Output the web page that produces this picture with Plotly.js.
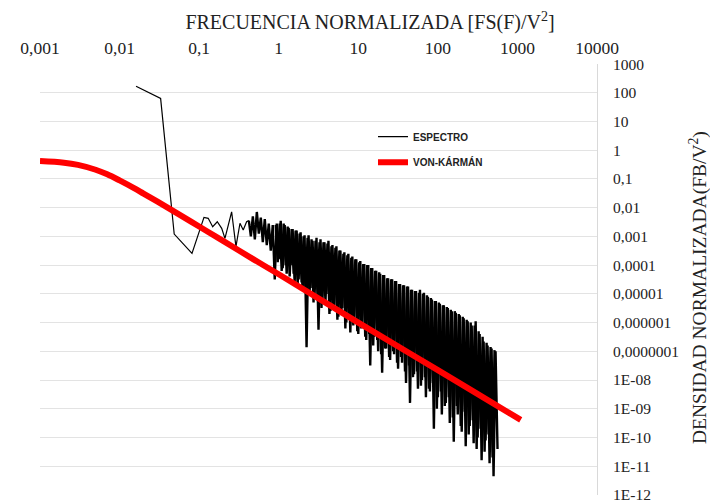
<!DOCTYPE html>
<html>
<head>
<meta charset="utf-8">
<script src="https://cdn.plot.ly/plotly-3.0.1.min.js"></script>
<style>html,body{margin:0;padding:0;background:#fff;}#chart{width:710px;height:502px;}</style>
</head>
<body>
<div id="chart"></div>
<script>
// X axis (normalised frequency) tick labels
const xTickVals = [0.001, 0.01, 0.1, 1, 10, 100, 1000, 10000];
const xTickText = ['0,001', '0,01', '0,1', '1', '10', '100', '1000', '10000'];
// Y axis (normalised density) tick labels
const yTickVals = [1e3, 1e2, 1e1, 1, 1e-1, 1e-2, 1e-3, 1e-4, 1e-5, 1e-6, 1e-7, 1e-8, 1e-9, 1e-10, 1e-11, 1e-12];
const yTickText = ['1000', '100', '10', '1', '0,1', '0,01', '0,001', '0,0001', '0,00001', '0,000001', '0,0000001', '1E-08', '1E-09', '1E-10', '1E-11', '1E-12'];

// ESPECTRO – low-frequency part
const specFreqLow = [0.0161, 0.0328, 0.0486, 0.0813, 0.115, 0.130, 0.148, 0.169, 0.192, 0.211, 0.256, 0.290, 0.326, 0.358, 0.395, 0.4217];
const specDensLow = [170, 64, 1.21e-3, 2.58e-4, 4.6e-3, 4.27e-3, 2.18e-3, 3.24e-3, 1.91e-3, 8.5e-4, 7.2e-3, 4.4e-4, 2.87e-3, 1.66e-3, 3.24e-3, 3.55e-3];

// ESPECTRO – dense high-frequency part, set A (peaks / troughs)
const specFreqHighA = [
  0.4217, 0.4467, 0.4732, 0.5012, 0.5309, 0.5623, 0.5957, 0.631, 0.6683, 0.7079, 0.7499, 0.7943, 0.8414, 0.8913, 0.9441,
  1, 1.059, 1.122, 1.189, 1.259, 1.334, 1.413, 1.496, 1.585, 1.679, 1.778, 1.884, 1.995, 2.113, 2.239, 2.371, 2.512, 2.661, 2.818, 2.985,
  3.162, 3.35, 3.548, 3.758, 3.981, 4.217, 4.467, 4.732, 5.012, 5.309, 5.623, 5.957, 6.31, 6.683, 7.079, 7.499, 7.943, 8.414, 8.913, 9.441,
  10, 10.59, 11.22, 11.89, 12.59, 13.34, 14.13, 14.96, 15.85, 16.79, 17.78, 18.84, 19.95, 21.13, 22.39, 23.71, 25.12, 26.61, 28.18, 29.85,
  31.62, 33.5, 35.48, 37.58, 39.81, 42.17, 44.67, 47.32, 50.12, 53.09, 56.23, 59.57, 63.1, 66.83, 70.79, 74.99, 79.43, 84.14, 89.13, 94.41,
  100, 105.9, 112.2, 118.9, 125.9, 133.4, 141.3, 149.6, 158.5, 167.9, 177.8, 188.4, 199.5, 211.3, 223.9, 237.1, 251.2, 266.1, 281.8, 298.5,
  316.2, 335, 354.8, 375.8, 398.1, 421.7, 446.7, 473.2, 501.2, 530.9, 562.3
];
const specDensHighA = [
  3.55e-3, 1.0e-3, 5.0e-3, 7.9e-4, 7.1e-3, 1.26e-3, 4.5e-3, 6.3e-4, 4.0e-3, 5.0e-4, 2.8e-3, 3.2e-4, 2.5e-3, 3.2e-5, 2.8e-3,
  1.6e-4, 3.5e-3, 7.9e-5, 2.5e-3, 5.0e-5, 2.0e-3, 1.0e-4, 1.8e-3, 2.5e-5, 1.6e-3, 3.2e-5, 1.4e-3, 1.26e-5, 1.1e-3, 1.4e-7,
  1.1e-3, 1.6e-5, 7.1e-4, 7.9e-6, 8.9e-4, 5.6e-7, 7.9e-4, 6.3e-6, 6.3e-4, 1.0e-5, 7.1e-4, 2.5e-6, 5.0e-4, 4.0e-6, 4.5e-4,
  1.6e-6, 3.2e-4, 3.2e-6, 2.8e-4, 1.0e-6, 2.5e-4, 4.5e-7, 2.0e-4, 1.26e-6, 1.6e-4, 4.0e-7, 1.4e-4, 7.9e-7, 1.1e-4, 2.5e-7,
  1.0e-4, 3.2e-8, 7.9e-5, 3.2e-7, 6.3e-5, 1.0e-7, 5.0e-5, 1.8e-8, 4.5e-5, 1.26e-7, 3.5e-5, 5.0e-8, 3.2e-5, 7.9e-8, 2.8e-5,
  2.5e-8, 2.2e-5, 4.0e-8, 2.0e-5, 7.9e-9, 1.8e-5, 1.6e-9, 1.4e-5, 1.6e-8, 1.26e-5, 5.0e-9, 1.4e-5, 1.0e-8, 1.1e-5, 2.5e-9,
  7.9e-6, 4.0e-9, 6.3e-6, 2.0e-10, 5.6e-6, 2.5e-9, 4.5e-6, 6.3e-10, 4.0e-6, 1.6e-9, 3.2e-6, 3.2e-10, 2.5e-6, 7.1e-11, 2.2e-6,
  6.3e-10, 1.8e-6, 1.6e-10, 1.4e-6, 5.0e-11, 1.1e-6, 2.5e-10, 7.9e-7, 6.3e-11, 1.1e-6, 1.0e-10, 4.0e-7, 1.6e-11, 2.2e-7, 7.9e-11,
  1.6e-7, 1.26e-11, 1.26e-7, 4.5e-12, 1.0e-7, 4.0e-11
];

// ESPECTRO – dense high-frequency part, set B (interleaved peaks / troughs)
const specFreqHighB = [
  0.9173, 0.9716,
  1.029, 1.090, 1.155, 1.223, 1.296, 1.373, 1.454, 1.540, 1.631, 1.728, 1.830, 1.939, 2.054, 2.175, 2.304, 2.441, 2.585, 2.739, 2.901, 3.073,
  3.255, 3.448, 3.652, 3.868, 4.097, 4.340, 4.597, 4.870, 5.158, 5.464, 5.788, 6.131, 6.494, 6.879, 7.286, 7.718, 8.175, 8.660, 9.173, 9.716,
  10.29, 10.90, 11.55, 12.23, 12.96, 13.73, 14.54, 15.40, 16.31, 17.28, 18.30, 19.39, 20.54, 21.75, 23.04, 24.41, 25.85, 27.39, 29.01, 30.73,
  32.55, 34.48, 36.52, 38.68, 40.97, 43.40, 45.97, 48.70, 51.58, 54.64, 57.88, 61.31, 64.94, 68.79, 72.86, 77.18, 81.75, 86.60, 91.73, 97.16,
  102.9, 109.0, 115.5, 122.3, 129.6, 137.3, 145.4, 154.0, 163.1, 172.8, 183.0, 193.9, 205.4, 217.5, 230.4, 244.1, 258.5, 273.9, 290.1, 307.3,
  325.5, 344.8, 365.2, 386.8, 409.7, 434.0, 459.7, 486.9, 515.8
];
const specDensHighB = [
  2.5e-3, 1.26e-4,
  2.8e-3, 6.3e-5, 2.8e-3, 1.0e-4, 2.2e-3, 4.0e-5, 1.8e-3, 5.0e-5, 1.6e-3, 2.0e-5, 1.26e-3, 2.5e-5, 1.0e-3, 1.26e-5, 8.9e-4, 1.0e-5, 7.9e-4, 5.0e-6, 7.1e-4, 1.0e-5,
  6.3e-4, 3.2e-6, 6.3e-4, 5.0e-6, 5.6e-4, 2.0e-6, 4.5e-4, 3.2e-6, 4.0e-4, 1.26e-6, 3.2e-4, 2.0e-6, 2.5e-4, 6.3e-7, 2.2e-4, 1.26e-6, 1.8e-4, 7.9e-7, 1.6e-4, 5.0e-7,
  1.26e-4, 6.3e-7, 1.1e-4, 3.2e-7, 1.0e-4, 4.0e-7, 7.9e-5, 1.6e-7, 6.3e-5, 2.5e-7, 5.6e-5, 7.9e-8, 4.5e-5, 1.26e-7, 3.5e-5, 6.3e-8, 3.2e-5, 1.0e-7, 2.8e-5, 4.0e-8,
  2.2e-5, 6.3e-8, 2.0e-5, 2.0e-8, 1.8e-5, 3.2e-8, 1.4e-5, 1.26e-8, 1.26e-5, 2.0e-8, 1.1e-5, 6.3e-9, 1.0e-5, 1.26e-8, 8.9e-6, 5.0e-9, 7.1e-6, 7.9e-9, 5.6e-6, 1.0e-9,
  5.0e-6, 4.0e-9, 4.0e-6, 1.26e-9, 3.5e-6, 2.5e-9, 2.8e-6, 5.0e-10, 2.5e-6, 1.26e-9, 2.0e-6, 2.5e-10, 1.6e-6, 7.9e-10, 1.26e-6, 1.26e-10, 1.0e-6, 4.0e-10, 7.9e-7, 4.0e-11,
  5.0e-7, 2.0e-10, 3.2e-7, 3.2e-11, 2.0e-7, 1.26e-10, 1.4e-7, 2.0e-11, 1.1e-7
];

// VON-KÁRMÁN curve
const vkFreq = [0.001, 0.002, 0.003, 0.005, 0.007, 0.01, 0.015, 0.02, 0.03, 0.05, 0.1, 0.2, 0.5, 1, 10, 100, 1000, 1100];
const vkDens = [0.42, 0.37, 0.31, 0.21, 0.145, 0.089, 0.049, 0.031, 0.0162, 0.0070, 0.00221, 7.0e-4, 1.5e-4, 4.8e-5, 1.0e-6, 2.2e-8, 4.8e-10, 4.1e-10];

const traces = [
  {x: specFreqLow, y: specDensLow, type: 'scatter', mode: 'lines', name: 'ESPECTRO',
   legendgroup: 'esp', line: {color: '#000000', width: 1.2}},
  {x: specFreqHighA, y: specDensHighA, type: 'scatter', mode: 'lines', name: 'ESPECTRO',
   legendgroup: 'esp', showlegend: false, line: {color: '#000000', width: 2.4, simplify: false}},
  {x: specFreqHighB, y: specDensHighB, type: 'scatter', mode: 'lines', name: 'ESPECTRO',
   legendgroup: 'esp', showlegend: false, line: {color: '#000000', width: 2.4, simplify: false}},
  {x: vkFreq, y: vkDens, type: 'scatter', mode: 'lines', name: 'VON-KÁRMÁN',
   legendgroup: 'vk', line: {color: '#ff0000', width: 6, shape: 'spline'}}
];

const serif = 'Liberation Serif, Times New Roman, serif';
const layout = {
  width: 710, height: 502,
  margin: {l: 40, r: 113, t: 64, b: 7},
  paper_bgcolor: '#ffffff', plot_bgcolor: '#ffffff',
  title: {text: 'FRECUENCIA NORMALIZADA [FS(F)/V<sup>2</sup>]',
          font: {family: serif, size: 20, color: '#222222'},
          xref: 'paper', x: 0.5925, xanchor: 'center',
          yref: 'container', y: 0.956, yanchor: 'middle'},
  xaxis: {type: 'log', range: [-3, 4], side: 'top',
          tickvals: xTickVals, ticktext: xTickText, ticks: '',
          showgrid: false, zeroline: false, showline: false,
          tickfont: {family: serif, size: 17.5, color: '#222222'},
          ticklabelstandoff: 6, ticklabeloverflow: 'allow', fixedrange: true},
  yaxis: {type: 'log', range: [-12.003, 3.003], side: 'right',
          tickvals: yTickVals, ticktext: yTickText, ticks: '',
          showgrid: true, gridcolor: '#e3e3e3', gridwidth: 1,
          showline: true, linecolor: '#d9d9d9', linewidth: 1,
          zeroline: false,
          tickfont: {family: serif, size: 15.5, color: '#222222'},
          ticklabelstandoff: 12, ticklabeloverflow: 'allow', fixedrange: true},
  showlegend: true,
  legend: {x: (373 - 40) / 557, xanchor: 'left', y: 0.865, yanchor: 'top',
           bgcolor: 'rgba(0,0,0,0)', borderwidth: 0,
           font: {family: 'Liberation Sans, Arial, sans-serif', size: 10, color: '#222222', weight: 700},
           tracegroupgap: 6.5, itemwidth: 30},
  annotations: [{text: 'DENSIDAD NORMALIZADA(FB/V<sup>2</sup>)', textangle: -90,
                 xref: 'paper', yref: 'paper', x: (698 - 40) / 557, y: (495 - 288) / 431,
                 xanchor: 'center', yanchor: 'middle', showarrow: false,
                 font: {family: serif, size: 19.5, color: '#222222'}}]
};

Plotly.newPlot('chart', traces, layout, {displayModeBar: false, staticPlot: true});
</script>
</body>
</html>
